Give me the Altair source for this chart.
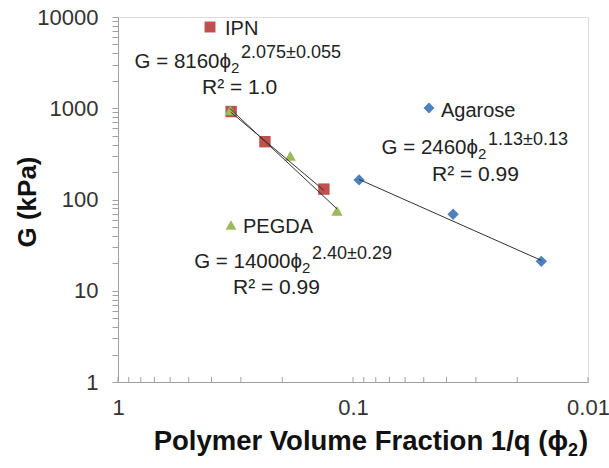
import altair as alt
import pandas as pd

# ---- data ----
ipn_phi = [0.330, 0.237, 0.133]
ipn_G = [920, 430, 130]
pegda_phi = [0.333, 0.185, 0.117]
pegda_G = [950, 301, 75]
agarose_phi = [0.0942, 0.0375, 0.0158]
agarose_G = [164, 69, 21]

# power-law trend line end points (as drawn)
ipn_trend_phi = [0.330, 0.133]
ipn_trend_G = [900, 126]
pegda_trend_phi = [0.335, 0.117]
pegda_trend_G = [1000, 79]
agarose_trend_phi = [0.0942, 0.0158]
agarose_trend_G = [166, 21.5]

y_ticks = [1, 2, 3, 4, 5, 6, 7, 8, 9,
           10, 20, 30, 40, 50, 60, 70, 80, 90,
           100, 200, 300, 400, 500, 600, 700, 800, 900,
           1000, 2000, 3000, 4000, 5000, 6000, 7000, 8000, 9000, 10000]
x_ticks = [1, 0.9, 0.8, 0.7, 0.6, 0.5, 0.4, 0.3, 0.2,
           0.1, 0.09, 0.08, 0.07, 0.06, 0.05, 0.04, 0.03, 0.02, 0.01]
x_labels = [1, 0.1, 0.01]

series_names = ["IPN", "PEGDA", "Agarose"]
series_colors = ["#C0504D", "#9BBB59", "#4F81BD"]
series_shapes = ["square", "triangle-up", "diamond"]

FONT = "Liberation Sans"
W, H = 470, 365
L, T = 118, 17

xs = alt.Scale(type="log", domain=[0.01, 1], reverse=True, nice=False)
ys = alt.Scale(type="log", domain=[1, 10000], nice=False)

pts = pd.DataFrame({
    "phi": ipn_phi + pegda_phi + agarose_phi,
    "G": ipn_G + pegda_G + agarose_G,
    "s": ["IPN"] * 3 + ["PEGDA"] * 3 + ["Agarose"] * 3,
})
trend = pd.DataFrame({
    "phi": ipn_trend_phi + pegda_trend_phi + agarose_trend_phi,
    "G": ipn_trend_G + pegda_trend_G + agarose_trend_G,
    "s": ["IPN"] * 2 + ["PEGDA"] * 2 + ["Agarose"] * 2,
})

x_axis = alt.Axis(values=x_labels, ticks=False, grid=False, title=None,
                  labelFont=FONT, labelFontSize=22, labelColor="#333333",
                  labelPadding=15, domainColor="#A0A0A0", labelFlush=False,
                  format="~g")
y_axis = alt.Axis(values=y_ticks, grid=False, title=None,
                  labelFont=FONT, labelFontSize=22, labelColor="#333333",
                  labelPadding=14, tickSize=6, tickColor="#A0A0A0",
                  domainColor="#A0A0A0", labelFlush=False,
                  labelExpr="indexof([1,10,100,1000,10000], datum.value) >= 0 ? format(datum.value, 'd') : ''")

base_pts = alt.Chart(pts).mark_point(filled=True, size=130, opacity=1).encode(
    x=alt.X("phi:Q", scale=xs, axis=x_axis),
    y=alt.Y("G:Q", scale=ys, axis=y_axis),
    color=alt.Color("s:N", scale=alt.Scale(domain=series_names, range=series_colors), legend=None),
    shape=alt.Shape("s:N", scale=alt.Scale(domain=series_names, range=series_shapes), legend=None),
)

lines = alt.Chart(trend).mark_line(color="#333333", strokeWidth=1).encode(
    x=alt.X("phi:Q", scale=xs),
    y=alt.Y("G:Q", scale=ys),
    detail="s:N",
)

xt = alt.Chart(pd.DataFrame({"v": x_ticks})).mark_rule(color="#A0A0A0", strokeWidth=1).encode(
    x=alt.X("v:Q", scale=xs),
    y=alt.value(H),
    y2=alt.value(H - 5),
)


def label(text, x, y, size=20, align="left", bold=False, angle=0, color="#222222"):
    return alt.Chart(alt.Data(values=[{"t": text}])).mark_text(
        font=FONT, fontSize=size, align=align, baseline="alphabetic",
        fontWeight="bold" if bold else "normal", angle=angle, color=color,
    ).encode(x=alt.value(x - L), y=alt.value(y - T), text="t:N")


def marker(shape, color, x, y, size=120):
    return alt.Chart(alt.Data(values=[{"a": 1}])).mark_point(
        shape=shape, filled=True, size=size, color=color, opacity=1
    ).encode(x=alt.value(x - L), y=alt.value(y - T))


EQ, SUB, SUP, R2 = 20.5, 15, 18, 21
texts = [
    # IPN
    marker("square", series_colors[0], 210, 27),
    label("IPN", 225, 35),
    label("G = 8160ϕ", 231, 68, size=EQ, align="right"),
    label("2", 231, 73, size=SUB),
    label("2.075±0.055", 241, 58, size=SUP),
    label("R² = 1.0", 202, 94, size=R2),
    # Agarose
    marker("diamond", series_colors[2], 429, 108),
    label("Agarose", 441, 117),
    label("G = 2460ϕ", 478, 154, size=EQ, align="right"),
    label("2", 478, 159, size=SUB),
    label("1.13±0.13", 488, 145, size=SUP),
    label("R² = 0.99", 432, 181, size=R2),
    # PEGDA
    marker("triangle-up", series_colors[1], 231, 225),
    label("PEGDA", 243, 233),
    label("G = 14000ϕ", 302, 268, size=EQ, align="right"),
    label("2", 302, 273, size=SUB),
    label("2.40±0.29", 312, 259, size=SUP),
    label("R² = 0.99", 233, 294, size=R2),
    # axis titles
    label("Polymer Volume Fraction 1/q (ϕ", 568, 450, size=27.5, align="right", bold=True, color="#111111"),
    label("2", 568, 456, size=18, bold=True, color="#111111"),
    label(")", 579, 450, size=27.5, bold=True, color="#111111"),
    label("G (kPa)", 36, 202, size=26, align="center", bold=True, angle=270, color="#111111"),
]

chart = alt.layer(base_pts, lines, xt, *texts).properties(
    width=W, height=H,
    padding={"left": L, "top": T, "right": 609 - L - W, "bottom": 468 - T - H},
    autosize="none",
).configure_view(stroke=None).configure(background="white")

chart.save("out.html", embed_options={"renderer": "svg", "actions": False})
